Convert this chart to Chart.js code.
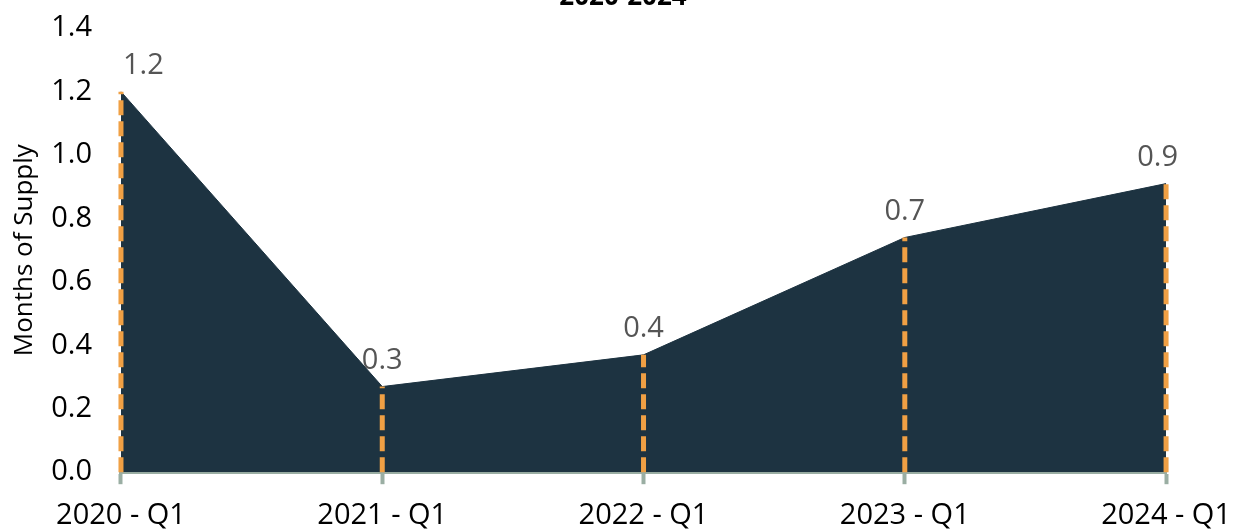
<!DOCTYPE html>
<html>
<head>
<meta charset="utf-8">
<script src="https://cdn.jsdelivr.net/npm/chart.js@4.4.1/dist/chart.umd.min.js"></script>
<style>
  html, body { margin: 0; padding: 0; background: #fff; }
  #wrap { position: relative; width: 1239px; height: 529px; overflow: hidden; }
  #box { position: absolute; left: 0; top: -30px; width: 1245px; height: 577px; }
</style>
</head>
<body>
<div id="wrap"><div id="box"><canvas id="placeholder1"></canvas></div></div>
<script>
const quarters = ['2020 - Q1', '2021 - Q1', '2022 - Q1', '2023 - Q1', '2024 - Q1'];
const monthsOfSupply = [1.2, 0.27, 0.37, 0.74, 0.91];
const yTicks = [0, 0.2, 0.4, 0.6, 0.8, 1.0, 1.2, 1.4];

const FONT = "'Open Sans'";

// orange dashed drop lines + value labels
const dropLines = {
    id: 'dropLines',
    afterDatasetsDraw(chart) {
        const ctx = chart.ctx;
        const meta = chart.getDatasetMeta(0);
        const base = chart.scales.y.getPixelForValue(0);
        const area = chart.chartArea;
        ctx.save();
        ctx.strokeStyle = '#f0a044';
        ctx.lineWidth = 5;
        ctx.setLineDash([15, 6]);
        meta.data.forEach(pt => {
            ctx.beginPath();
            ctx.moveTo(pt.x, base);
            ctx.lineTo(pt.x, pt.y);
            ctx.stroke();
        });
        ctx.setLineDash([]);
        ctx.font = '29px ' + FONT;
        ctx.fillStyle = '#555555';
        ctx.textAlign = 'center';
        ctx.textBaseline = 'middle';
        meta.data.forEach((pt, i) => {
            const txt = monthsOfSupply[i].toFixed(1);
            const w = ctx.measureText(txt).width;
            let x = Math.max(pt.x, area.left + w / 2 + 2);
            x = Math.min(x, area.right + 12 - w / 2);
            ctx.fillText(txt, x, pt.y - 26);
        });
        ctx.restore();
    }
};

const data = {
    labels: quarters,
    datasets: [
        {
            label: 'Months of Supply',
            data: monthsOfSupply,
            fill: 'origin',
            backgroundColor: '#1d3341',
            borderColor: '#1d3341',
            borderWidth: 1,
            pointRadius: 0,
            tension: 0
        }
    ]
};

const config = {
    type: 'line',
    data: data,
    plugins: [dropLines],
    options: {
        responsive: true,
        maintainAspectRatio: false,
        animation: false,
        layout: { padding: { left: 1, right: 0, top: 0, bottom: 0 } },
        plugins: {
            legend: { display: false },
            tooltip: { enabled: false },
            title: {
                display: true,
                text: '2020-2024',
                color: '#000',
                font: { family: FONT, size: 26, weight: 'bold' },
                padding: { top: 12, bottom: 15 }
            }
        },
        scales: {
            x: {
                offset: false,
                grid: {
                    display: true,
                    drawOnChartArea: false,
                    drawTicks: true,
                    tickLength: 12,
                    tickWidth: 4,
                    tickColor: '#9aaea3'
                },
                border: { display: true, color: '#9aaea3', width: 4 },
                ticks: {
                    color: '#000',
                    font: { family: FONT, size: 29 },
                    padding: 14,
                    maxRotation: 0
                }
            },
            y: {
                min: 0,
                max: 1.4,
                afterBuildTicks(scale) {
                    scale.ticks = yTicks.map(v => ({ value: v }));
                },
                grid: { display: false, drawTicks: false },
                border: { display: false },
                title: {
                    display: true,
                    text: 'Months of Supply',
                    color: '#000',
                    font: { family: FONT, size: 26 },
                    padding: { top: 8, bottom: -18 }
                },
                ticks: {
                    color: '#000',
                    font: { family: FONT, size: 29 },
                    padding: 29,
                    callback: v => Number(v).toFixed(1)
                }
            }
        }
    }
};

const ctx = document.getElementById('placeholder1');
Promise.all([
    document.fonts.load("29px 'Open Sans'"),
    document.fonts.load("bold 26px 'Open Sans'")
]).catch(() => {}).then(() => {
    new Chart(ctx, config);
});
</script>
</body>
</html>
